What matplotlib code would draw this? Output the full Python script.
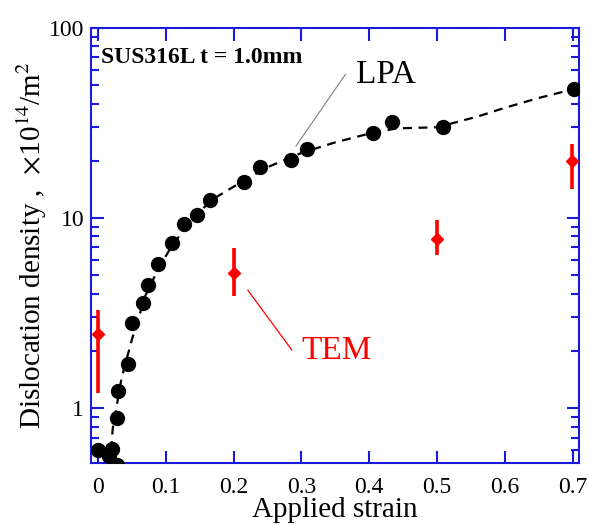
import numpy as np
import matplotlib.pyplot as plt
from matplotlib.ticker import LogLocator, NullFormatter, FixedLocator

plt.rcParams['font.family'] = ['Liberation Serif', 'DejaVu Serif']
plt.rcParams['mathtext.fontset'] = 'stix'

# LPA data (black points)
lpa_strain = [0.0, 0.016, 0.021, 0.029, 0.029, 0.030, 0.044, 0.051, 0.066, 0.074,
              0.088, 0.109, 0.127, 0.146, 0.166, 0.215, 0.239, 0.284, 0.308,
              0.405, 0.433, 0.508, 0.701]
lpa_density = [0.60, 0.56, 0.61, 0.50, 0.885, 1.23, 1.70, 2.80, 3.57, 4.44,
               5.73, 7.39, 9.3, 10.4, 12.4, 15.5, 18.6, 20.2, 23.1,
               28.0, 32.0, 30.1, 47.7]

# dashed guide line
fit_strain = [0.018, 0.022, 0.035, 0.05, 0.07, 0.09, 0.11, 0.14, 0.17, 0.20,
              0.25, 0.30, 0.35, 0.40, 0.44, 0.50, 0.56, 0.60, 0.65, 0.70]
fit_density = [0.50, 0.78, 1.44, 2.28, 3.9, 5.5, 7.2, 10.0, 12.6, 14.6,
               18.5, 22.0, 25.0, 27.8, 29.6, 30.0, 34.2, 38.0, 42.8, 47.5]

# TEM data (red)
tem_strain = [0.0, 0.2, 0.5, 0.698]
tem_density = [2.45, 5.13, 7.75, 19.9]
tem_low = [1.2, 3.88, 6.38, 14.2]
tem_high = [3.28, 6.95, 9.77, 24.5]

fig = plt.figure(figsize=(5.89, 5.25), dpi=100)
ax = fig.add_axes([0.1545, 0.118, 0.8285, 0.829])

ax.plot(fit_strain, fit_density, '--', color='black', lw=1.6, dashes=(4, 3), zorder=2)
ax.plot(lpa_strain, lpa_density, 'o', color='black', ms=10, zorder=3)

yerr = [np.array(tem_density) - np.array(tem_low), np.array(tem_high) - np.array(tem_density)]
ax.errorbar(tem_strain, tem_density, yerr=yerr, fmt='D', color='red', ms=6,
            elinewidth=2.6, capsize=0, zorder=4)

ax.set_yscale('log')
ax.set_xlim(-0.01, 0.709)
ax.set_ylim(0.515, 100)

ax.xaxis.set_major_locator(FixedLocator([0, 0.1, 0.2, 0.3, 0.4, 0.5, 0.6, 0.7]))
ax.set_xticklabels(['0', '0.1', '0.2', '0.3', '0.4', '0.5', '0.6', '0.7'])
ax.yaxis.set_major_locator(FixedLocator([1, 10, 100]))
ax.set_yticklabels(['1', '10', '100'])
ax.yaxis.set_minor_locator(LogLocator(base=10, subs=np.arange(2, 10)))
ax.yaxis.set_minor_formatter(NullFormatter())

for s in ax.spines.values():
    s.set_color('#1a1adc')
    s.set_linewidth(1.5)
ax.tick_params(which='both', direction='in', color='#1a1adc', top=True, right=True,
               width=1.5, labelsize=17)
ax.tick_params(which='major', length=9)
ax.tick_params(which='minor', length=6)
ax.tick_params(axis='x', pad=10)
ax.tick_params(axis='y', pad=5)

ax.set_xlabel('Applied strain', fontsize=21, labelpad=-1)
ax.set_ylabel(r'Dislocation density ,  $\times$10$^{14}$/m$^{2}$', fontsize=21, labelpad=0)

ax.text(0.004, 70, 'SUS316L t = 1.0mm', fontsize=17, fontweight='bold', va='center', ha='left')

# callout lines and labels
ax.annotate('', xy=(0.292, 23.9), xytext=(0.365, 57.0),
            arrowprops=dict(arrowstyle='-', color='gray', lw=0.8, shrinkA=0, shrinkB=0))
ax.text(0.381, 56.5, 'LPA', fontsize=24, va='center', ha='left')
ax.annotate('', xy=(0.221, 4.18), xytext=(0.286, 2.02),
            arrowprops=dict(arrowstyle='-', color='red', lw=0.9, shrinkA=0, shrinkB=0))
ax.text(0.30, 2.0, 'TEM', fontsize=24, color='red', va='center', ha='left')

fig.savefig('out.png', dpi=100)
